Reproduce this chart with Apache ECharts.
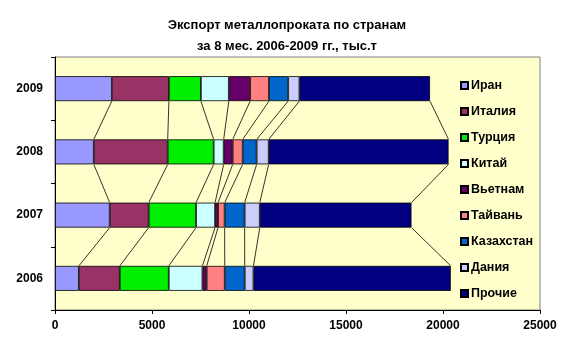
<!DOCTYPE html>
<html><head><meta charset="utf-8">
<script src="https://cdn.jsdelivr.net/npm/echarts@6/dist/echarts.min.js"></script>
<style>html,body{margin:0;padding:0;background:#fff}#c{width:565px;height:356px}</style>
</head><body><div id="c"></div>
<script>
var years = ['2006', '2007', '2008', '2009'];
var seriesNames = ['Иран', 'Италия', 'Турция', 'Китай', 'Вьетнам', 'Тайвань', 'Казахстан', 'Дания', 'Прочие'];
var iran       = [1230, 2820, 2000, 2930];
var italy      = [2110, 2010, 3810, 2940];
var turkey     = [2525, 2440, 2370, 1650];
var china      = [1735, 980, 515, 1440];
var vietnam    = [220, 155, 465, 1100];
var taiwan     = [930, 340, 515, 970];
var kazakhstan = [1030, 1030, 720, 990];
var denmark    = [450, 780, 620, 580];
var others     = [10170, 7820, 9270, 6730];
var xTicks = [0, 5000, 10000, 15000, 20000, 25000];

var values = [iran, italy, turkey, china, vietnam, taiwan, kazakhstan, denmark, others];
var colors = ['#9999FF', '#993366', '#00EE00', '#CCFFFF', '#660066', '#FF8080', '#0066CC', '#CCCCFF', '#000080'];
var BAR = 0.395;
var FONT = '"Liberation Sans", Arial, sans-serif';

var cum = values.map(function (_, i) {
  return years.map(function (_, j) {
    var s = 0; for (var k = 0; k <= i; k++) s += values[k][j]; return s;
  });
});

var series = seriesNames.map(function (n, i) {
  return {
    name: n, type: 'bar', stack: 'total', barWidth: (BAR * 100) + '%',
    data: values[i],
    itemStyle: { color: colors[i], borderColor: '#000', borderWidth: 0.8 },
    emphasis: { disabled: true }
  };
});

series.push({
  type: 'custom', silent: true, z: 1,
  data: [[0, 0], [0, 1], [0, 2]],
  encode: { x: 0, y: 1 },
  renderItem: function (params, api) {
    var j = api.value(1);
    var h = api.size([0, 1])[1] * BAR / 2;
    var children = [];
    for (var i = 0; i < cum.length; i++) {
      var p1 = api.coord([cum[i][j], j]);
      var p2 = api.coord([cum[i][j + 1], j + 1]);
      children.push({
        type: 'line',
        shape: { x1: p1[0], y1: p1[1] - h, x2: p2[0], y2: p2[1] + h },
        style: { stroke: '#000', lineWidth: 0.8 }
      });
    }
    return { type: 'group', children: children };
  }
});

var chart = echarts.init(document.getElementById('c'));
chart.setOption({
  animation: false,
  backgroundColor: '#fff',
  color: colors,
  title: {
    text: 'Экспорт металлопроката по странам\nза 8 мес. 2006-2009 гг., тыс.т',
    left: 282, top: 10, textAlign: 'center',
    textStyle: { fontFamily: FONT, fontSize: 13, fontWeight: 'bold', color: '#000', lineHeight: 21 }
  },
  legend: {
    orient: 'vertical', left: 455, top: 74,
    itemWidth: 7, itemHeight: 7, itemGap: 13,
    icon: 'rect',
    data: seriesNames,
    textStyle: { fontFamily: FONT, fontSize: 12.5, fontWeight: 'bold', color: '#000', padding: [0, 0, 0, -2] }
  },
  grid: {
    left: 55, right: 25, top: 57, bottom: 46,
    show: true, backgroundColor: '#FFFFCC', borderColor: '#808080', borderWidth: 1
  },
  xAxis: {
    type: 'value', min: xTicks[0], max: xTicks[xTicks.length - 1], interval: 5000,
    axisLine: { show: true, lineStyle: { color: '#000' } },
    axisTick: { show: true, length: 4, lineStyle: { color: '#000' } },
    splitLine: { show: false },
    axisLabel: { fontFamily: FONT, fontSize: 12, fontWeight: 'bold', color: '#000', margin: 10,
      formatter: function (v) { return String(v); } }
  },
  yAxis: {
    type: 'category', data: years,
    axisLine: { show: true, lineStyle: { color: '#000' } },
    axisTick: { show: true, length: 4, lineStyle: { color: '#000' } },
    axisLabel: { fontFamily: FONT, fontSize: 12, fontWeight: 'bold', color: '#000', margin: 12 }
  },
  series: series
});
</script></body></html>
